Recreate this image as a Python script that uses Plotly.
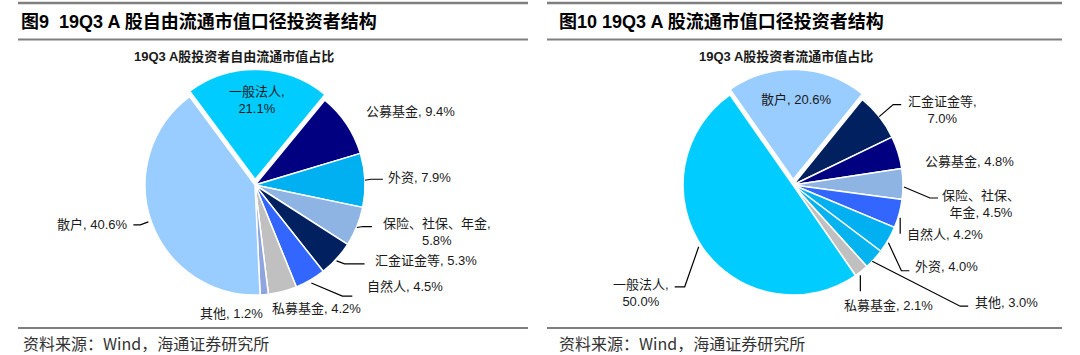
import math
import plotly.graph_objects as go

# ---------------- data ----------------
left_labels = ["一般法人", "公募基金", "外资", "保险、社保、年金", "汇金证金等",
               "自然人", "私募基金", "其他", "散户"]
left_values = [21.1, 9.4, 7.9, 5.8, 5.3, 4.5, 4.2, 1.2, 40.6]

right_labels = ["散户", "汇金证金等", "公募基金", "保险、社保、年金", "自然人",
                "外资", "其他", "私募基金", "一般法人"]
right_values = [20.6, 7.0, 4.8, 4.5, 4.2, 4.0, 3.0, 2.1, 50.0]

left_title = "图9\u00a0\u00a019Q3 A 股自由流通市值口径投资者结构"
right_title = "图10 19Q3 A 股流通市值口径投资者结构"
left_subtitle = "19Q3 A股投资者自由流通市值占比"
right_subtitle = "19Q3 A股投资者流通市值占比"
source_text = "资料来源：Wind，海通证券研究所"

# ---------------- styles ----------------
left_colors = ["#00CCFF", "#000080", "#00B0F0", "#8EB4E3", "#002060",
               "#3366FF", "#C0C0C0", "#8EA5DE", "#99CCFF"]
right_colors = ["#99CCFF", "#002060", "#000080", "#8EB4E3", "#3366FF",
                "#00B0F0", "#05B3EE", "#C0C0C0", "#00CCFF"]

W, H = 1080, 355
PULL = 0.05
R = 110
FONT = "Arial, Liberation Sans, Noto Sans CJK SC, sans-serif"
CJK = "Noto Sans CJK SC, Arial, sans-serif"

# label styles: (mode, dx, dy, xanchor, wrap, leader offsets)
# mode 'in' -> dx is radius fraction
left_style = [
    ("in", 0.72, 0, "center", "comma", None),
    ("out", 17, -13, "left", None, None),
    ("out", 21, -3, "left", None, [(0, 0), (6, -1), (18, -1)]),
    ("out", 80, 5.5, "center", "comma", [(0, 1), (6, 0), (15, 0)]),
    ("out", 36.7, 1.9, "left", None, [(0, 2), (8, 5), (28, 5)]),
    ("out", 55, 6, "left", None, [(1, 3), (32, 16), (42, 16)]),
    ("out", -12.6, 17, "left", None, None),
    ("out", 1, 18.5, "right", None, None),
    ("out", -21, 3, "right", None, [(-3, 0), (-11, 3), (-18, 3)]),
]
right_style = [
    ("in", 0.73, 0, "center", None, None),
    ("out", 63, -6.3, "center", "comma", [(0, 0), (14, -12), (22, -12)]),
    ("out", 25, 9, "left", None, None),
    ("out", 78, 20, "center", 6, [(1, 3), (27, 14), (35, 14)]),
    ("out", 6, 21, "left", None, [(1, 4), (1, 20)]),
    ("out", 25, 27, "left", None, [(0, 3), (13, 31), (21, 31)]),
    ("out", 99, 43.5, "left", None, [(-2, 2), (86, 47), (94, 47)]),
    ("out", -19.6, 34, "left", None, [(-1, 4), (-1, 20)]),
    ("out", -61.7, 44.7, "center", "comma", [(-4, -1), (-18, 39), (-28, 39)]),
]


def px(x):
    return x / W


def py(y):
    return 1 - y / H


fig = go.Figure()
annotations = []
shapes = []


def label_text(lab, v, wrap):
    val = f"{v:.1f}%"
    if wrap == "comma":
        return f"{lab},<br>{val}"
    if isinstance(wrap, int):
        full = f"{lab}, {val}"
        return full[:wrap] + "<br>" + full[wrap:]
    return f"{lab}, {val}"


def add_pie(labels, values, colors, center, rot, styles):
    cx, cy = center
    half = R * (1 + PULL)
    fig.add_trace(go.Pie(
        labels=labels, values=values, sort=False, direction="clockwise",
        rotation=rot, pull=[PULL] + [0] * (len(values) - 1),
        marker=dict(colors=colors, line=dict(color="white", width=1.5)),
        textinfo="none", hoverinfo="label+percent", showlegend=False,
        domain=dict(x=[px(cx - half), px(cx + half)],
                    y=[py(cy + half), py(cy - half)]),
    ))
    total = sum(values)
    a = rot
    for lab, v, st in zip(labels, values, styles):
        span = 360.0 * v / total
        mid = math.radians(a + span / 2)
        a += span
        mode, dx, dy, xa, wrap, leader = st
        s, c = math.sin(mid), math.cos(mid)
        if mode == "in":
            rr = dx * R + PULL * R
            tx, ty = cx + rr * s, cy - rr * c
        else:
            ex, ey = cx + R * s, cy - R * c
            tx, ty = ex + dx, ey + dy
            if leader:
                pts = [(ex + ox, ey + oy) for ox, oy in leader]
                path = "M " + " L ".join(f"{px(x):.5f},{py(y):.5f}" for x, y in pts)
                shapes.append(dict(type="path", xref="paper", yref="paper",
                                   path=path, line=dict(color="#000000", width=1.2)))
        annotations.append(dict(
            x=px(tx), y=py(ty), xref="paper", yref="paper",
            text=label_text(lab, v, wrap), showarrow=False,
            xanchor=xa, yanchor="middle", align="center",
            font=dict(family=FONT, size=13, color="#1a1a1a"),
        ))


add_pie(left_labels, left_values, left_colors, (255, 185), -36.5, left_style)
add_pie(right_labels, right_values, right_colors, (793, 185), -35, right_style)

# panel decorations
for x0, x1 in [(18, 528), (547, 1062)]:
    shapes.append(dict(type="line", xref="paper", yref="paper", x0=px(x0), x1=px(x1),
                       y0=py(3), y1=py(3), line=dict(color="#7F7F7F", width=2.5)))
    shapes.append(dict(type="line", xref="paper", yref="paper", x0=px(x0), x1=px(x1),
                       y0=py(39.5), y1=py(39.5), line=dict(color="#7F7F7F", width=2)))
    shapes.append(dict(type="line", xref="paper", yref="paper", x0=px(x0), x1=px(x1),
                       y0=py(328), y1=py(328), line=dict(color="#7F7F7F", width=2)))

for x, t in [(19, left_title), (557, right_title)]:
    annotations.append(dict(x=px(x), y=py(21), xref="paper", yref="paper",
                            text=f"<b>{t}</b>", showarrow=False, xanchor="left",
                            yanchor="middle", font=dict(family=FONT, size=18, color="#000000")))

for x, t in [(234, left_subtitle), (786, right_subtitle)]:
    annotations.append(dict(x=px(x), y=py(56), xref="paper", yref="paper",
                            text=f"<b>{t}</b>", showarrow=False, xanchor="center",
                            yanchor="middle", font=dict(family=FONT, size=13, color="#1a1a1a")))

for x in [21, 557]:
    annotations.append(dict(x=px(x), y=py(343), xref="paper", yref="paper",
                            text=source_text, showarrow=False, xanchor="left",
                            yanchor="middle", font=dict(family=CJK, size=16, color="#333333")))

fig.update_layout(
    width=W, height=H, margin=dict(l=0, r=0, t=0, b=0),
    paper_bgcolor="white", plot_bgcolor="white",
    annotations=annotations, shapes=shapes,
)

fig.write_html(
    "out.html",
    config={"displayModeBar": False},
    post_script="document.body.style.margin='0';document.body.style.overflow='hidden';",
)
